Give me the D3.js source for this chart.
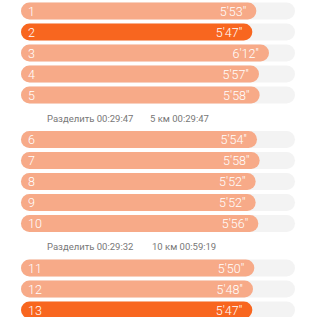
<!DOCTYPE html>
<html>
<head>
<meta charset="utf-8">
<script src="https://cdn.jsdelivr.net/npm/d3@7"></script>
<style>
  body { margin: 0; background: #fff; }
  text { font-family: Roboto, "Noto Sans", sans-serif; }
</style>
</head>
<body>
<div id="chart"></div>
<script>
// km splits, pace in seconds per km
var laps = [1, 2, 3, 4, 5, 6, 7, 8, 9, 10, 11, 12, 13];
var paceSec = [353, 347, 372, 357, 358, 354, 358, 352, 352, 356, 350, 348, 347];
var fastest = [2, 13];
var splitLabels = ["Разделить 00:29:47", "Разделить 00:29:32"];
var totalLabels = ["5 км 00:29:47", "10 км 00:59:19"];

var width = 317, height = 317, barH = 17;

var svg = d3.select("#chart").append("svg")
    .attr("width", width)
    .attr("height", height);

//Horizontal scale for pace.
var x = d3.scaleLinear().domain([0, 411]).range([21, 295]);

//Row slots, with an extra gap after every 5 km.
function slot(i) { return i + Math.floor(i / 5) * 1.12; }
var y = d3.scaleLinear().domain([0, 1]).range([11, 32]);

function fmt(s) { return Math.floor(s / 60) + "'" + d3.format("02")(s % 60) + "''"; }

var row = svg.append("g").selectAll("g")
    .data(laps)
    .enter().append("g")
    .attr("transform", function(d, i) { return "translate(0," + y(slot(i)) + ")"; });

row.append("rect")
    .attr("x", x(0))
    .attr("y", -barH / 2)
    .attr("width", x(411) - x(0))
    .attr("height", barH)
    .attr("rx", barH / 2)
    .attr("fill", "#f3f3f3");

row.append("rect")
    .attr("x", x(0))
    .attr("y", -barH / 2)
    .attr("width", function(d, i) { return x(paceSec[i]) - x(0); })
    .attr("height", barH)
    .attr("rx", barH / 2)
    .attr("fill", function(d) { return fastest.indexOf(d) >= 0 ? "#f8661f" : "#f7aa88"; });

row.append("text")
    .attr("x", 28)
    .attr("dy", "0.36em")
    .attr("fill", "#fff")
    .attr("font-size", 12.5)
    .attr("font-weight", 300)
    .text(function(d) { return d; });

row.append("text")
    .attr("x", function(d, i) { return x(paceSec[i]) - 10; })
    .attr("dy", "0.36em")
    .attr("text-anchor", "end")
    .attr("fill", "#fff")
    .attr("font-size", 12.5)
    .attr("font-weight", 300)
    .text(function(d, i) { return fmt(paceSec[i]); });

//Split summaries after each 5 km.
var sep = svg.append("g").selectAll("g")
    .data(splitLabels)
    .enter().append("g")
    .attr("transform", function(d, i) {
        var a = y(slot(i * 5 + 4)), b = y(slot(i * 5 + 5));
        return "translate(0," + ((a + b) / 2 + 1) + ")";
    });

sep.append("text")
    .attr("x", 47)
    .attr("dy", "0.35em")
    .attr("fill", "#777")
    .attr("font-size", 9.5)
    .text(function(d) { return d; });

sep.append("text")
    .attr("x", function(d, i) { return i == 0 ? 150 : 152; })
    .attr("dy", "0.35em")
    .attr("fill", "#777")
    .attr("font-size", 9.5)
    .text(function(d, i) { return totalLabels[i]; });
</script>
</body>
</html>
